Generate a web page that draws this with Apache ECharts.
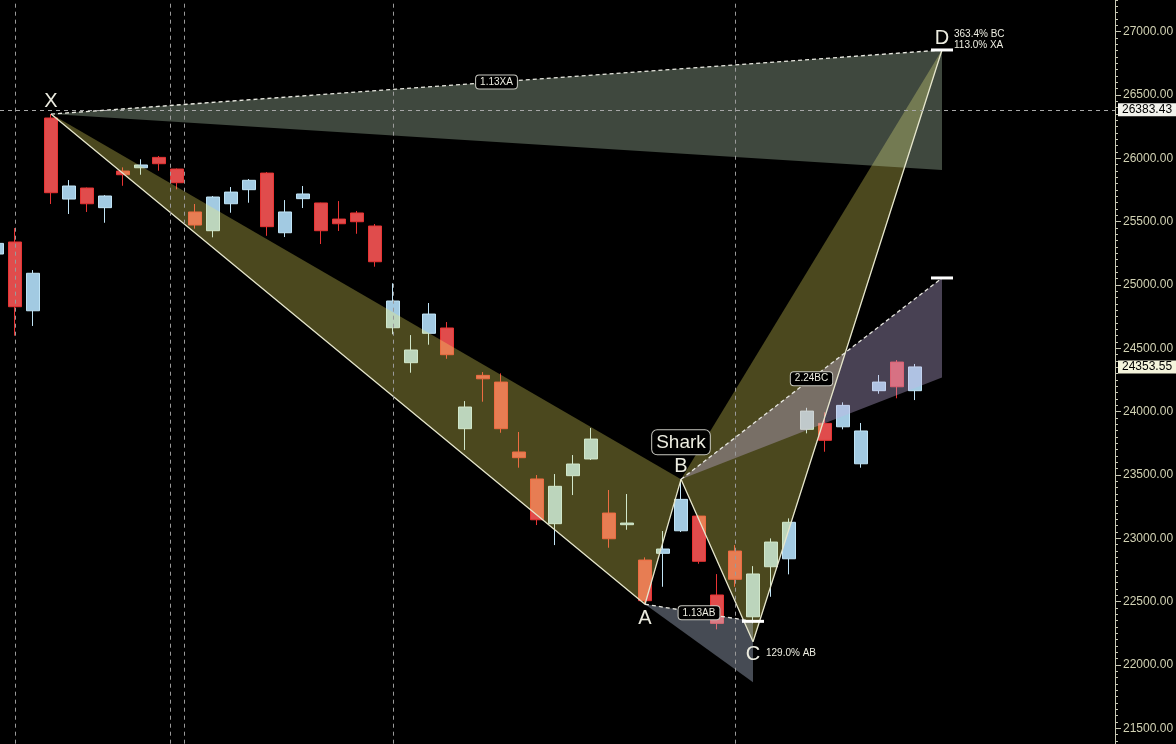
<!DOCTYPE html>
<html><head><meta charset="utf-8">
<script src="https://cdn.jsdelivr.net/npm/echarts@6/dist/echarts.min.js"></script>
<style>html,body{margin:0;padding:0;background:#000;}#c{width:1176px;height:744px;}</style>
</head><body><div id="c"></div>
<script>
// ---- candle data (bar index is the category position) ----
const opens  = [25245,25340,24797,26319,25679,25766,25611,25900,25926,26008,25916,25577,25429,25642,25753,25884,25413,25682,25648,25521,25569,25466,24663,24387,24619,24661,23866,24287,24234,23682,23469,23116,23495,23627,23200,23108,22829,22882,23060,23176,22553,22900,22381,22776,22839,23861,23908,23881,23589,24166,24392,24166];
const closes = [25329,24829,25093,25729,25782,25642,25703,25871,25948,25958,25808,25474,25695,25734,25827,25461,25577,25719,25429,25484,25500,25184,24874,24487,24771,24450,24037,24260,23866,23637,23147,23411,23587,23784,22997,23121,22508,22916,23308,22819,22329,22677,22719,22971,23127,24005,23774,24050,23848,24234,24197,24353.55];
const lows   = [25220,24600,24677,25640,25561,25577,25492,25784,25871,25903,25756,25445,25377,25571,25650,25389,25379,25608,25324,25427,25405,25145,24611,24308,24529,24418,23698,24079,23834,23558,23105,22947,23342,23619,22926,23068,22480,22618,23050,22800,22282,22618,22330,22539,22716,23829,23684,23861,23558,24142,24106,24092];
const highs  = [25360,25450,25118,26350,25829,25770,25710,25929,25993,26019,25920,25640,25703,25774,25837,25892,25671,25782,25650,25663,25585,25482,25014,24605,24858,24708,24084,24313,24303,23840,23500,23508,23658,23871,23382,23350,22850,23058,23466,23180,22718,22947,22781,23000,23158,24031,23995,24074,23911,24290,24408,24377];

// ---- harmonic (Shark) pattern points ----
const pointNames = ['X','A','B','C','D'];
const pointX = [3, 36, 38, 42, 52.5];
const pointY = [26350, 22480, 23466, 22184, 26856];
const xaBandLow = 25908;           // 0.886 XA
const abProj = [22345, 21864];     // 1.13 AB, 1.618 AB
const bcProj = [25056, 24270];     // 2.24 BC, 1.618 BC
const ratioLabels = ['1.13XA', '1.13AB', '2.24BC'];
const patternName = 'Shark';
const cPctLabel = '129.0% AB';
const dPctLabels = ['363.4% BC', '113.0% XA'];

// ---- axis / reference values ----
const yMin = 21000, yMax = 27500, yStep = 500;
const crosshairPrice = 26383.43;
const lastPrice = 24353.55;
const sessionLines = [1, 9.61, 10.39, 22, 41];

const P = i => [pointX[i], pointY[i]];
const candleData = opens.map((o, i) => [i, o, closes[i], lows[i], highs[i]]);

const fillPolys = [
  [P(0), P(1), P(2)],
  [P(2), P(3), P(4)],
  [P(0), P(4), [pointX[4], xaBandLow]],
  [P(1), [pointX[3], abProj[0]], [pointX[3], abProj[1]]],
  [P(2), [pointX[4], bcProj[0]], [pointX[4], bcProj[1]]]
];
const fillColors = ['rgba(247,240,100,0.30)','rgba(247,240,100,0.30)','rgba(210,240,205,0.30)','rgba(200,215,240,0.35)','rgba(200,180,230,0.36)'];

const dashedSegs = [
  [P(0), P(4)],
  [P(1), [pointX[3], abProj[0]]],
  [P(2), [pointX[4], bcProj[0]]]
];
const markerPts = [P(4), [pointX[3], abProj[0]], [pointX[4], bcProj[0]]];

const FONT = '"Liberation Sans", Arial, sans-serif';
const mid = s => [(s[0][0] + s[1][0]) / 2, (s[0][1] + s[1][1]) / 2];
const texts = [
  {at: P(0), t: pointNames[0], dx: 0, dy: -13, f: 20},
  {at: P(1), t: pointNames[1], dx: 0, dy: 14, f: 20},
  {at: P(2), t: pointNames[2], dx: 0, dy: -13, f: 20},
  {at: P(3), t: pointNames[3], dx: 0, dy: 13, f: 20},
  {at: P(4), t: pointNames[4], dx: 0, dy: -11, f: 20},
  {at: P(2), t: patternName, dx: 0, dy: -37, f: 19, box: true},
  {at: mid(dashedSegs[0]), t: ratioLabels[0], dx: 0, dy: 0, f: 10, box: true},
  {at: mid(dashedSegs[1]), t: ratioLabels[1], dx: 0, dy: 0, f: 10, box: true},
  {at: mid(dashedSegs[2]), t: ratioLabels[2], dx: 0, dy: 0, f: 10, box: true},
  {at: P(3), t: cPctLabel, dx: 13, dy: 12, f: 10, left: true},
  {at: P(4), t: dPctLabels[0], dx: 12, dy: -16, f: 10, left: true},
  {at: P(4), t: dPctLabels[1], dx: 12, dy: -5, f: 10, left: true}
];

const chart = echarts.init(document.getElementById('c'));
const lineCol = '#e6e6cc';
chart.setOption({
  animation: false,
  backgroundColor: '#000',
  grid: {left: 0, right: 61, top: -31.6, bottom: -47.7, outerBoundsMode: 'none', containLabel: false},
  xAxis: {type: 'value', min: 1/6, max: 62.111, show: false},
  yAxis: {
    type: 'value', position: 'right', min: yMin, max: yMax, interval: yStep,
    axisLine: {show: true, lineStyle: {color: '#c8c8b4'}},
    axisTick: {show: true, length: 6, lineStyle: {color: '#c8c8b4'}},
    minorTick: {show: true, splitNumber: 10, length: 3, lineStyle: {color: '#c8c8b4'}},
    splitLine: {show: false},
    axisLabel: {color: '#d2d2b4', fontSize: 12, fontFamily: FONT, margin: 8, formatter: v => v.toFixed(2)}
  },
  series: [
    {
      type: 'candlestick', data: candleData, barWidth: 14, clip: false, z: 2,
      itemStyle: {color: '#a2cae2', color0: '#e04c4c', borderColor: '#c0e4f6', borderColor0: '#e83434', borderWidth: 1},
      markLine: {
        silent: true, symbol: ['none', 'none'], animation: false,
        data: [
          ...sessionLines.map(v => ({xAxis: v, label: {show: false}, lineStyle: {color: '#9a9a9a', type: [4, 4], width: 1}})),
          {yAxis: crosshairPrice, lineStyle: {color: '#a8a8a8', type: [4, 4], width: 1},
           label: {show: true, position: 'end', distance: 3, formatter: crosshairPrice.toFixed(2), color: '#000', backgroundColor: '#f2f2ec', padding: [1, 4, 0, 4], fontSize: 12, fontFamily: FONT}},
          {yAxis: lastPrice, lineStyle: {color: 'rgba(0,0,0,0)', width: 0},
           label: {show: true, position: 'end', distance: 3, formatter: lastPrice.toFixed(2), color: '#000', backgroundColor: '#f4f4dc', padding: [1, 4, 0, 4], fontSize: 12, fontFamily: FONT}}
        ]
      }
    },
    {
      type: 'custom', z: 3, silent: true,
      data: fillPolys.map(p => p[0]),
      renderItem: (params, api) => ({
        type: 'polygon',
        shape: {points: fillPolys[params.dataIndex].map(p => api.coord(p))},
        style: {fill: fillColors[params.dataIndex]}
      })
    },
    {
      type: 'line', z: 4, silent: true, symbol: 'none',
      data: pointX.map((x, i) => [x, pointY[i]]),
      lineStyle: {color: lineCol, width: 1.3}
    },
    ...dashedSegs.map(s => ({
      type: 'line', z: 4, silent: true, symbol: 'none', data: s,
      lineStyle: {color: '#e8e8e0', width: 1.3, type: [4, 3]}
    })),
    {
      type: 'custom', z: 5, silent: true, data: markerPts,
      renderItem: (params, api) => {
        const c = api.coord([api.value(0), api.value(1)]);
        return {type: 'line', shape: {x1: c[0] - 11, y1: c[1], x2: c[0] + 11, y2: c[1]}, style: {stroke: '#ffffff', lineWidth: 3}};
      }
    },
    {
      type: 'custom', z: 6, silent: true, data: texts.map(t => t.at),
      renderItem: (params, api) => {
        const t = texts[params.dataIndex];
        const c = api.coord(t.at);
        const style = {
          text: t.t, fill: '#ecece0', font: t.f + 'px ' + FONT,
          align: t.left ? 'left' : 'center', verticalAlign: 'middle'
        };
        if (t.box) {
          Object.assign(style, {backgroundColor: '#000', borderColor: '#c8c8c0', borderWidth: 1,
            borderRadius: t.f > 12 ? 5 : 3, padding: t.f > 12 ? [3, 4, 2, 4] : [2, 4, 1, 4]});
        }
        return {type: 'text', x: c[0] + t.dx, y: c[1] + t.dy, style};
      }
    }
  ]
});
</script></body></html>
